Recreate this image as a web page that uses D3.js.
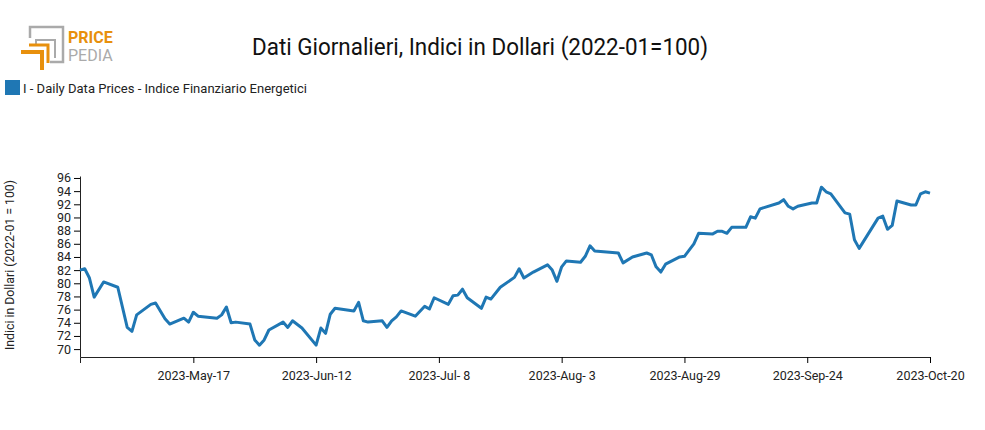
<!DOCTYPE html>
<html><head><meta charset="utf-8">
<script src="https://cdn.jsdelivr.net/npm/d3@7"></script>
<style>body{margin:0;background:#fff}text{font-family:Roboto,sans-serif}</style>
</head><body><svg id="c" width="985" height="430"></svg>
<script>
const dates=["2023-04-23","2023-04-24","2023-04-25","2023-04-26","2023-04-28","2023-05-01","2023-05-03","2023-05-04","2023-05-05","2023-05-08","2023-05-09","2023-05-11","2023-05-12","2023-05-15","2023-05-16","2023-05-17","2023-05-18","2023-05-22","2023-05-23","2023-05-24","2023-05-25","2023-05-26","2023-05-29","2023-05-30","2023-05-31","2023-06-01","2023-06-02","2023-06-05","2023-06-06","2023-06-07","2023-06-09","2023-06-12","2023-06-13","2023-06-14","2023-06-15","2023-06-16","2023-06-20","2023-06-21","2023-06-22","2023-06-23","2023-06-26","2023-06-27","2023-06-28","2023-06-29","2023-06-30","2023-07-03","2023-07-05","2023-07-06","2023-07-07","2023-07-10","2023-07-11","2023-07-12","2023-07-13","2023-07-14","2023-07-17","2023-07-18","2023-07-19","2023-07-21","2023-07-24","2023-07-25","2023-07-26","2023-07-28","2023-07-31","2023-08-01","2023-08-02","2023-08-03","2023-08-04","2023-08-07","2023-08-08","2023-08-09","2023-08-10","2023-08-15","2023-08-16","2023-08-18","2023-08-21","2023-08-22","2023-08-23","2023-08-24","2023-08-25","2023-08-28","2023-08-29","2023-08-31","2023-09-01","2023-09-04","2023-09-05","2023-09-06","2023-09-07","2023-09-08","2023-09-11","2023-09-12","2023-09-13","2023-09-14","2023-09-18","2023-09-19","2023-09-20","2023-09-21","2023-09-22","2023-09-25","2023-09-26","2023-09-27","2023-09-28","2023-09-29","2023-10-02","2023-10-03","2023-10-04","2023-10-05","2023-10-09","2023-10-10","2023-10-11","2023-10-12","2023-10-13","2023-10-16","2023-10-17","2023-10-18","2023-10-19","2023-10-20"];
const values=[82.0,82.2,80.8,77.9,80.2,79.4,73.3,72.7,75.2,76.8,77.0,74.6,73.8,74.7,74.1,75.6,75.0,74.7,75.2,76.4,74.0,74.1,73.8,71.4,70.6,71.4,72.9,74.1,73.3,74.3,73.2,70.6,73.2,72.4,75.3,76.2,75.8,77.1,74.3,74.1,74.3,73.3,74.3,74.9,75.8,75.0,76.5,76.1,77.8,76.8,78.1,78.2,79.1,77.8,76.2,77.9,77.6,79.4,80.9,82.2,80.8,81.7,82.8,82.0,80.3,82.5,83.4,83.2,84.1,85.7,84.9,84.6,83.1,84.0,84.6,84.3,82.5,81.7,82.9,84.0,84.1,86.0,87.6,87.5,87.9,87.9,87.6,88.5,88.5,90.1,89.9,91.3,92.2,92.7,91.7,91.3,91.7,92.2,92.2,94.6,93.9,93.6,90.7,90.5,86.6,85.3,89.9,90.2,88.2,88.8,92.5,91.9,91.9,93.6,93.9,93.7];
const xTicks=["2023-05-17","2023-06-12","2023-07-08","2023-08-03","2023-08-29","2023-09-24","2023-10-20"];
const yTicks=[70,72,74,76,78,80,82,84,86,88,90,92,94,96];
const seriesName="I - Daily Data Prices - Indice Finanziario Energetici";
const title="Dati Giornalieri, Indici in Dollari (2022-01=100)";
const yLabel="Indici in Dollari (2022-01 = 100)";

const parse=d3.timeParse("%Y-%m-%d");
const data=dates.map((d,i)=>({d:parse(d),v:values[i]}));
const svg=d3.select("#c");
const x=d3.scaleTime().domain([parse("2023-04-23"),parse("2023-10-20")]).range([80,930]);
const y=d3.scaleLinear().domain([68.8,96.3]).range([357,176]);
const fmt=d3.timeFormat("%Y-%b-%e");

const gx=svg.append("g").attr("transform","translate(0,357)")
 .call(d3.axisBottom(x).tickValues(xTicks.map(parse)).tickFormat(d=>fmt(d)).tickSizeOuter(6));
gx.selectAll("text").attr("font-size",12.5).attr("fill","#222").attr("dy","1.1em");
const gy=svg.append("g").attr("transform","translate(80,0)")
 .call(d3.axisLeft(y).tickValues(yTicks).tickSizeOuter(0));
gy.selectAll("text").attr("font-size",12.5).attr("fill","#222");
svg.selectAll(".domain").attr("stroke","#222");

svg.append("path").datum(data).attr("fill","none").attr("stroke","#1f77b4").attr("stroke-width",3)
 .attr("stroke-linejoin","round")
 .attr("d",d3.line().x(d=>x(d.d)).y(d=>y(d.v)));

svg.append("text").attr("x",480).attr("y",55).attr("text-anchor","middle").attr("font-size",23)
 .attr("textLength",456).attr("lengthAdjust","spacingAndGlyphs").attr("fill","#111").text(title);
svg.append("rect").attr("x",5).attr("y",80).attr("width",15).attr("height",15).attr("fill","#1f77b4");
svg.append("text").attr("x",23).attr("y",93).attr("font-size",13).attr("textLength",284)
 .attr("lengthAdjust","spacingAndGlyphs").attr("fill","#222").text(seriesName);
svg.append("text").attr("transform","translate(14,265) rotate(-90)").attr("text-anchor","middle")
 .attr("font-size",12).attr("textLength",170).attr("lengthAdjust","spacingAndGlyphs").attr("fill","#222").text(yLabel);

// logo
const lg=svg.append("g");
lg.append("path").attr("d","M30,38 V27 H63 V62 H50").attr("fill","none").attr("stroke","#aaa").attr("stroke-width",2.5);
lg.append("path").attr("d","M36,46 V40 H55 V58").attr("fill","none").attr("stroke","#aaa").attr("stroke-width",2);
lg.append("path").attr("d","M21,52 H42 V70").attr("fill","none").attr("stroke","#e8900c").attr("stroke-width",4);
lg.append("path").attr("d","M29,45 H48 V63").attr("fill","none").attr("stroke","#e8900c").attr("stroke-width",3);
lg.append("text").attr("x",68).attr("y",43).attr("font-size",16).attr("font-weight","bold").attr("fill","#e8900c").text("PRICE");
lg.append("text").attr("x",68).attr("y",61).attr("font-size",16).attr("fill","#aaa").text("PEDIA");
</script></body></html>
